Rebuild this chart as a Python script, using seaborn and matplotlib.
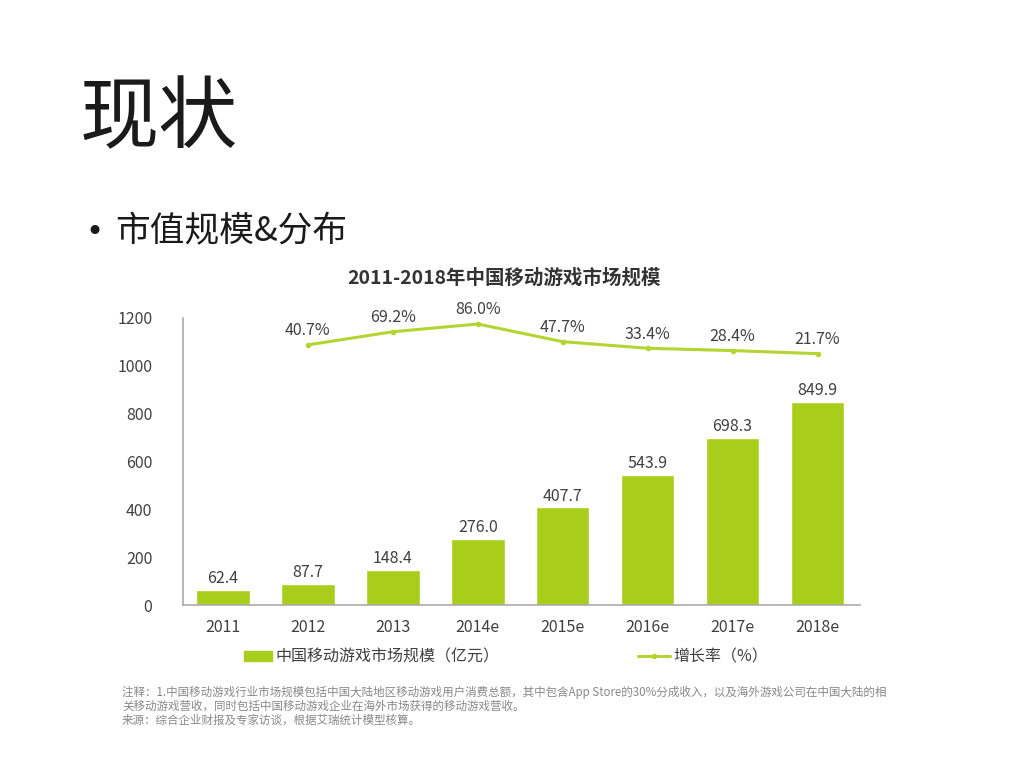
import numpy as np
import pandas as pd
import seaborn as sns
import matplotlib.pyplot as plt
from matplotlib.patches import Patch
from matplotlib.lines import Line2D

years = ['2011', '2012', '2013', '2014e', '2015e', '2016e', '2017e', '2018e']
market = [62.4, 87.7, 148.4, 276.0, 407.7, 543.9, 698.3, 849.9]
growth_years = ['2012', '2013', '2014e', '2015e', '2016e', '2017e', '2018e']
growth = [40.7, 69.2, 86.0, 47.7, 33.4, 28.4, 21.7]
y_ticks = [0, 200, 400, 600, 800, 1000, 1200]

sns.set_theme(style='white')
plt.rcParams['font.family'] = ['Noto Sans CJK SC', 'DejaVu Sans']

bar_color = '#a8cd1b'
line_color = '#b4d432'
text_gray = '#404040'

df = pd.DataFrame({'year': years, 'market': market})
gdf = pd.DataFrame({'pos': [years.index(y) for y in growth_years], 'growth': growth})

fig = plt.figure(figsize=(10.24, 7.68), dpi=100)
fig.patch.set_facecolor('white')

# slide text
fig.text(80 / 1024, 1 - 120 / 768, '现状', fontsize=57, color='#1a1a1a',
         va='center', ha='left', fontweight='light')
fig.text(94 / 1024, 1 - 232 / 768, '•', fontsize=22, color='#1a1a1a', va='center',
         ha='center', family='DejaVu Sans')
fig.text(115 / 1024, 1 - 232 / 768, '市值规模&分布', fontsize=25, color='#1a1a1a',
         va='center', ha='left', fontweight='light')
fig.text(504 / 1024, 1 - 278 / 768, '2011-2018年中国移动游戏市场规模', fontsize=14,
         color='#333333', fontweight='bold', va='center', ha='center')

ax = fig.add_axes([183 / 1024, 1 - 605 / 768, (860 - 183) / 1024, (605 - 318) / 768])
sns.barplot(data=df, x='year', y='market', color=bar_color, width=0.63,
            saturation=1, ax=ax)
ax.set_xlim(-0.47, 7.5)
ax.set_ylim(0, 1200)
ax.set_yticks(y_ticks)
ax.set_xlabel('')
ax.set_ylabel('')
ax.tick_params(axis='both', colors=text_gray, labelsize=11.5, length=0)
ax.tick_params(axis='y', pad=22)
ax.tick_params(axis='x', pad=10)
for s in ['top', 'right']:
    ax.spines[s].set_visible(False)
for s in ['left', 'bottom']:
    ax.spines[s].set_color('#aaaaaa')
    ax.spines[s].set_linewidth(1.2)
for i, v in enumerate(market):
    ax.annotate(f'{v:.1f}', (i, v), xytext=(0, 2), textcoords='offset points',
                ha='center', va='bottom', fontsize=11.5, color=text_gray)

ax2 = ax.twinx()
sns.lineplot(data=gdf, x='pos', y='growth', color=line_color, linewidth=2.2,
             marker='o', markersize=4, markeredgewidth=0, ax=ax2)
ax2.set_ylim(-523, 99)
ax2.set_xlim(-0.47, 7.5)
ax2.axis('off')
for p, g in zip(gdf['pos'], growth):
    ax2.annotate(f'{g:.1f}%', (p, g), xytext=(0, 4), textcoords='offset points',
                 ha='center', va='bottom', fontsize=11.5, color=text_gray,
                 annotation_clip=False)

handles = [Patch(color=bar_color), Line2D([0], [0], color=line_color, lw=2.2,
                                         marker='o', markersize=3)]
fig.legend([handles[0]], ['中国移动游戏市场规模（亿元）'], loc='center left',
           bbox_to_anchor=(230 / 1024, 1 - 657 / 768), frameon=False,
           fontsize=11.5, handlelength=1.7, handleheight=0.6, handletextpad=0.25,
           labelcolor=text_gray)
fig.legend([handles[1]], ['增长率（%）'], loc='center left',
           bbox_to_anchor=(624 / 1024, 1 - 657 / 768), frameon=False,
           fontsize=11.5, handlelength=2.0, handletextpad=0.2, labelcolor=text_gray)

note = ('注释：1.中国移动游戏行业市场规模包括中国大陆地区移动游戏用户消费总额，其中包含App Store的30%分成收入，以及海外游戏公司在中国大陆的相\n'
        '关移动游戏营收，同时包括中国移动游戏企业在海外市场获得的移动游戏营收。\n'
        '来源：综合企业财报及专家访谈，根据艾瑞统计模型核算。')
fig.text(122 / 1024, 1 - 686 / 768, note, fontsize=8.3, color='#888888',
         va='top', ha='left', linespacing=1.1)

fig.savefig('out.png', dpi=100, facecolor='white')
